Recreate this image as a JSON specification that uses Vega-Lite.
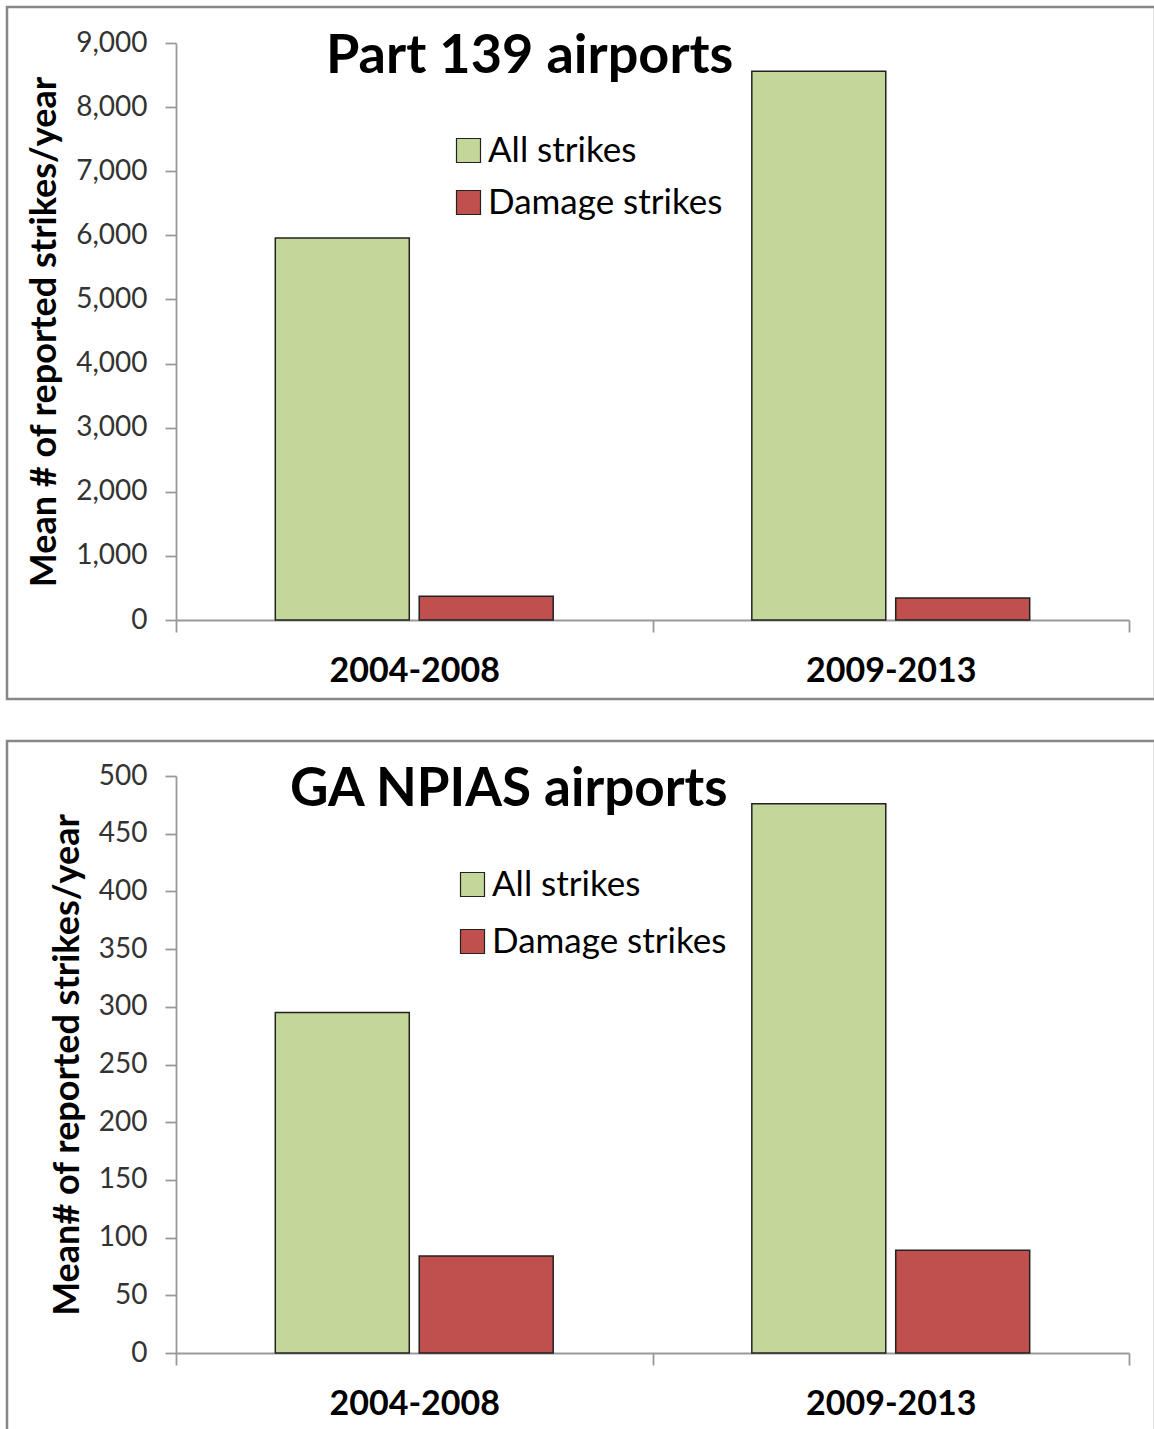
{
  "$schema": "https://vega.github.io/schema/vega-lite/v6.json",
  "padding": {"left": 5, "top": 5, "right": 0, "bottom": 0},
  "spacing": 38,
  "resolve": {"scale": {"color": "independent"}, "legend": {"color": "independent"}},
  "config": {
    "font": "Lato",
    "view": {"stroke": "#878787", "strokeWidth": 2.5},
    "axis": {
      "domainColor": "#999999",
      "domainWidth": 1.8,
      "tickColor": "#999999",
      "tickWidth": 1.8,
      "grid": false,
      "labelFont": "Lato",
      "titleFont": "Lato"
    },
    "legend": {"labelFont": "Lato"}
  },
  "vconcat": [
    {
      "width": 1148,
      "height": 692,
      "title": {
        "text": "Part 139 airports",
        "anchor": "start",
        "frame": "group",
        "orient": "top",
        "offset": -120,
        "dx": 319,
        "baseline": "alphabetic",
        "font": "Lato",
        "fontSize": 54,
        "fontWeight": "bold",
        "color": "#000000"
      },
      "data": {
        "values": [
          {"period": "2004-2008", "type": "All strikes", "value": 5960},
          {"period": "2004-2008", "type": "Damage strikes", "value": 372},
          {"period": "2009-2013", "type": "All strikes", "value": 8560},
          {"period": "2009-2013", "type": "Damage strikes", "value": 343}
        ]
      },
      "mark": {"type": "bar", "stroke": "#222222", "strokeWidth": 1.5},
      "encoding": {
        "x": {
          "field": "period",
          "type": "nominal",
          "scale": {"range": [169, 1122], "paddingInner": 0, "paddingOuter": 0},
          "axis": {
            "title": null,
            "orient": "bottom",
            "offset": -79,
            "tickBand": "extent",
            "tickSize": 12,
            "labelAngle": 0,
            "labelFontSize": 34,
            "labelFontWeight": "bold",
            "labelColor": "#000000",
            "labelPadding": 22
          }
        },
        "xOffset": {
          "field": "type",
          "scale": {"paddingInner": 0.069, "paddingOuter": 0.69}
        },
        "y": {
          "field": "value",
          "type": "quantitative",
          "scale": {"domain": [0, 9000], "range": [613, 36], "nice": false},
          "axis": {
            "title": "Mean # of reported strikes/year",
            "orient": "left",
            "offset": -169,
            "values": [0, 1000, 2000, 3000, 4000, 5000, 6000, 7000, 8000, 9000],
            "format": ",.0f",
            "tickSize": 11,
            "labelPadding": 18,
            "labelFontSize": 28,
            "labelColor": "#333333",
            "titleFontSize": 36,
            "titleFontWeight": "bold",
            "titleColor": "#000000",
            "titleX": -132,
            "titleBaseline": "middle"
          }
        },
        "color": {
          "field": "type",
          "type": "nominal",
          "scale": {"domain": ["All strikes", "Damage strikes"], "range": ["#C4D79B", "#C0504D"]},
          "legend": {
            "title": null,
            "orient": "none",
            "legendX": 444,
            "legendY": 126,
            "symbolType": "square",
            "symbolSize": 576,
            "symbolStrokeColor": "#222222",
            "symbolStrokeWidth": 1.2,
            "labelFontSize": 35,
            "labelLimit": 500,
            "labelColor": "#000000",
            "labelOffset": 2,
            "rowPadding": 16
          }
        }
      }
    },
    {
      "width": 1148,
      "height": 690,
      "title": {
        "text": "GA NPIAS airports",
        "anchor": "start",
        "frame": "group",
        "orient": "top",
        "offset": -118,
        "dx": 283,
        "baseline": "alphabetic",
        "font": "Lato",
        "fontSize": 53,
        "fontWeight": "bold",
        "color": "#000000"
      },
      "data": {
        "values": [
          {"period": "2004-2008", "type": "All strikes", "value": 295},
          {"period": "2004-2008", "type": "Damage strikes", "value": 84},
          {"period": "2009-2013", "type": "All strikes", "value": 476},
          {"period": "2009-2013", "type": "Damage strikes", "value": 89}
        ]
      },
      "mark": {"type": "bar", "stroke": "#222222", "strokeWidth": 1.5},
      "encoding": {
        "x": {
          "field": "period",
          "type": "nominal",
          "scale": {"range": [169, 1122], "paddingInner": 0, "paddingOuter": 0},
          "axis": {
            "title": null,
            "orient": "bottom",
            "offset": -78,
            "tickBand": "extent",
            "tickSize": 12,
            "labelAngle": 0,
            "labelFontSize": 34,
            "labelFontWeight": "bold",
            "labelColor": "#000000",
            "labelPadding": 22
          }
        },
        "xOffset": {
          "field": "type",
          "scale": {"paddingInner": 0.069, "paddingOuter": 0.69}
        },
        "y": {
          "field": "value",
          "type": "quantitative",
          "scale": {"domain": [0, 500], "range": [612, 35], "nice": false},
          "axis": {
            "title": "Mean# of reported strikes/year",
            "orient": "left",
            "offset": -169,
            "values": [0, 50, 100, 150, 200, 250, 300, 350, 400, 450, 500],
            "tickSize": 11,
            "labelPadding": 18,
            "labelFontSize": 28,
            "labelColor": "#333333",
            "titleFontSize": 36,
            "titleFontWeight": "bold",
            "titleColor": "#000000",
            "titleX": -109,
            "titleBaseline": "middle"
          }
        },
        "color": {
          "field": "type",
          "type": "nominal",
          "scale": {"domain": ["All strikes", "Damage strikes"], "range": ["#C4D79B", "#C0504D"]},
          "legend": {
            "title": null,
            "orient": "none",
            "legendX": 448,
            "legendY": 126,
            "symbolType": "square",
            "symbolSize": 576,
            "symbolStrokeColor": "#222222",
            "symbolStrokeWidth": 1.2,
            "labelFontSize": 35,
            "labelLimit": 500,
            "labelColor": "#000000",
            "labelOffset": 2,
            "rowPadding": 21
          }
        }
      }
    }
  ]
}
